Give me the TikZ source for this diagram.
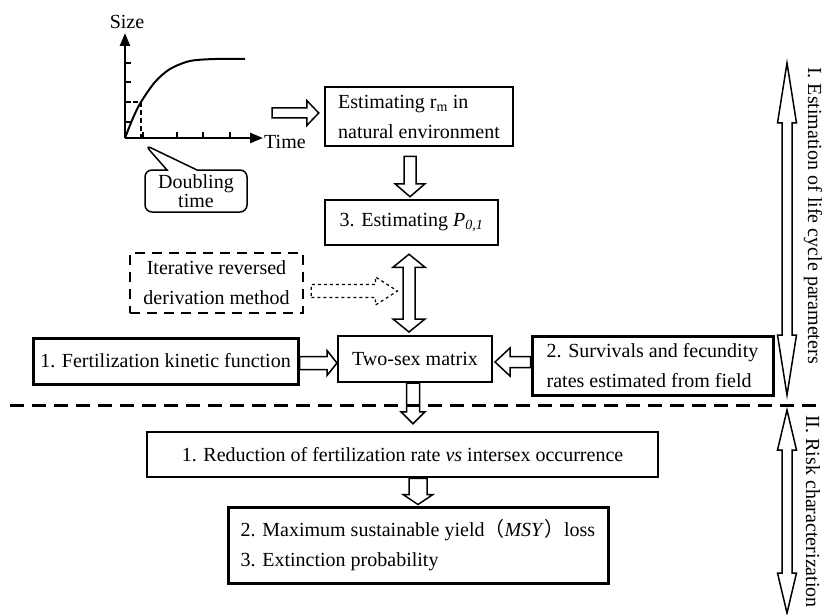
\documentclass[tikz,border=0pt]{standalone}
\usepackage{fontspec}
\setmainfont{Liberation Serif}
\newfontfamily\cjkfont{Noto Sans CJK SC}
\usepackage{tikz}
\usetikzlibrary{arrows.meta,calc,shapes.callouts}

\tikzset{shaftw/.store in=\shaftw, headw/.store in=\headw, headl/.store in=\headl,
	shaftw=6, headw=15, headl=13}
% hollow block arrow from #2 to #3
\newcommand{\onearrow}[3][]{%
	\draw[fatarrow,#1] let \p1=(#2), \p2=(#3),
		\n1={atan2(\y2-(\y1),\x2-(\x1))}, \n2={veclen(\x2-(\x1),\y2-(\y1))} in
		[shift={(\p1)},rotate=\n1] (0,-\shaftw) -- (\n2-\headl,-\shaftw) -- (\n2-\headl,-\headw)
		-- (\n2,0) -- (\n2-\headl,\headw) -- (\n2-\headl,\shaftw) -- (0,\shaftw) -- cycle;}
% hollow block arrow with two heads
\newcommand{\twoarrow}[3][]{%
	\draw[fatarrow,#1] let \p1=(#2), \p2=(#3),
		\n1={atan2(\y2-(\y1),\x2-(\x1))}, \n2={veclen(\x2-(\x1),\y2-(\y1))} in
		[shift={(\p1)},rotate=\n1] (0,0) -- (\headl,\headw) -- (\headl,\shaftw) -- (\n2-\headl,\shaftw)
		-- (\n2-\headl,\headw) -- (\n2,0) -- (\n2-\headl,-\headw) -- (\n2-\headl,-\shaftw)
		-- (\headl,-\shaftw) -- (\headl,-\headw) -- cycle;}

\begin{document}
\begin{tikzpicture}[x=1pt, y=1pt,
		every node/.style={font=\fontsize{20}{30}\selectfont},
		box/.style={draw, line width=2.5pt, inner sep=0pt},
		fatarrow/.style={draw, fill=white, line width=1.5pt, line join=miter},
		axisline/.style={line width=2.5pt, -{Triangle[length=13pt,width=10pt]}},
		sepline/.style={line width=3pt, dash pattern=on 14pt off 8pt}]
	\useasboundingbox (0,0) rectangle (824,-615);

	\coordinate (o) at (125,-138);
	\draw[axisline] (o) -- (125,-33);
	\draw[axisline] (o) -- (263,-138);
	\foreach \y in {63,82,102,122}
		\draw[line width=1.5pt] (125,-\y) -- (131,-\y);
	\foreach \x in {143,177,203,230}
		\draw[line width=1.5pt] (\x,-138) -- (\x,-132);
	\draw[line width=1.5pt, dash pattern=on 5pt off 3pt] (125,-102) -- (141,-102) -- (141,-138);
	\draw[line width=2pt] plot[smooth] coordinates {(125,-138) (133,-118) (141,-102) (155,-82)
		(170,-69) (190,-61) (215,-59) (245,-59)};
	\node (size) at (127,-22) {Size};
	\node[anchor=west, inner sep=1pt] (time) at (263,-142) {Time};
	\node[rectangle callout, draw, rounded corners=7pt, line width=1.5pt,
		minimum width=102pt, minimum height=42pt, inner sep=0pt, align=center,
		callout absolute pointer={(145,-145)}, callout pointer width=30pt,
		font=\fontsize{20}{17}\selectfont] (dbl) at (196,-191) {Doubling\\time};
	\coordinate (gout) at (272,-113);

	\node[box, minimum width=188pt, minimum height=59pt, align=left]
		(rm) at (419,-116.5) {Estimating r\textsubscript{m} in\\natural environment};
	\node[box, minimum width=173pt, minimum height=45pt]
		(p01) at (411.5,-222.5) {3. Estimating \textit{P}\textsubscript{\textit{0,1}}};
	\node[box, dash pattern=on 10pt off 7pt, minimum width=173pt, minimum height=60pt, align=center]
		(iter) at (216.5,-283) {Iterative reversed\\derivation method};
	\node[box, line width=3pt, minimum width=265pt, minimum height=46pt]
		(fert) at (165.5,-361) {1. Fertilization kinetic function};
	\node[box, line width=2pt, minimum width=154pt, minimum height=46pt]
		(twosex) at (415,-359) {Two-sex matrix};
	\node[box, line width=3pt, minimum width=241pt, minimum height=59pt, align=left]
		(surv) at (652.5,-365.5) {2. Survivals and fecundity\\rates estimated from field};
	\node[box, minimum width=511pt, minimum height=45pt]
		(reduc) at (402.5,-454.5) {1. Reduction of fertilization rate \textit{vs} intersex occurrence};
	\node[box, line width=3pt, minimum width=380pt, minimum height=76pt, align=left]
		(msy) at (418,-545) {2. Maximum sustainable yield{\cjkfont （}\textit{MSY}{\cjkfont ）}loss\\3. Extinction probability};

	\onearrow[shaftw=5, headw=12.5, headl=12]{gout}{$(gout -| rm.west)+(-5,0)$}
	\onearrow{$(rm.south -| p01.north)+(-1.5,-9)$}{$(p01.north)+(-1.5,2)$}
	\twoarrow[shaftw=6, headw=16]{$(p01.south)+(-2.5,-8)$}{$(p01.south |- twosex.north)+(-2.5,3)$}
	\onearrow[dashed, line width=1.2pt, shaftw=6.5, headw=14, headl=22]{$(iter.east)+(7,-8)$}{$(iter.east -| p01.south)+(-14,-8)$}
	\onearrow[shaftw=6.5, headw=12.5, headl=10]{$(fert.east)+(0,-2)$}{$(fert.east -| twosex.west)+(0,-2)$}
	\onearrow[shaftw=5.5, headw=14, headl=15]{$(surv.west |- twosex.east)+(0,-3)$}{$(twosex.east)+(2,-3)$}
	\onearrow[shaftw=6.5, headw=12, headl=12]{$(twosex.south)+(-2,0)$}{$(twosex.south |- reduc.north)+(-2,7)$}
	\onearrow[shaftw=9, headw=15, headl=10]{reduc.south -| msy.north}{$(msy.north)+(0,1)$}

	\draw[sepline] (10,-405) -- (824,-405);

	\coordinate (ua) at (787,-63);
	\coordinate (ub) at (787,-395);
	\coordinate (la) at (787,-410);
	\coordinate (lb) at (787,-613);
	\twoarrow[shaftw=5, headw=9.5, headl=60]{ua}{ub}
	\twoarrow[shaftw=5, headw=9.5, headl=40]{la}{lb}
	\node[rotate=-90, anchor=west, inner sep=0pt] (lbl1) at (813,-67) {I. Estimation of life cycle parameters};
	\node[rotate=-90, anchor=west, inner sep=0pt] (lbl2) at (813,-415) {II. Risk characterization};
\end{tikzpicture}
\end{document}
